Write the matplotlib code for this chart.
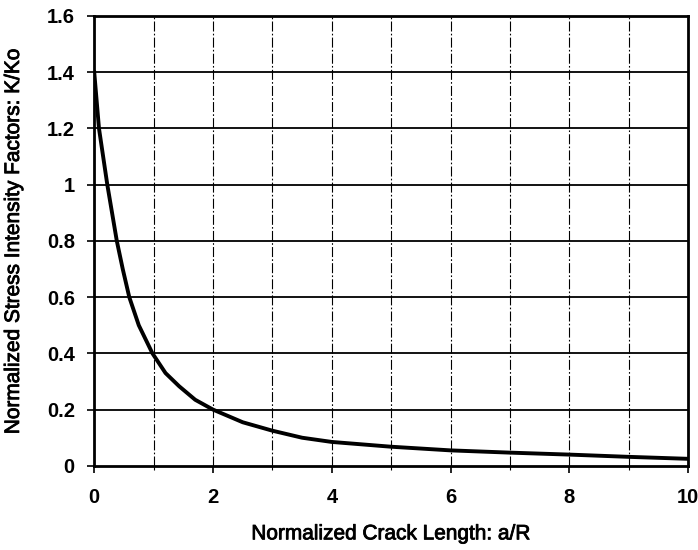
import numpy as np
from matplotlib import pyplot as plt
import matplotlib
import matplotlib.patheffects as pe

matplotlib.rcParams['font.family'] = ['Liberation Sans', 'DejaVu Sans']

# values
crack_len = [0, 0.08, 0.22, 0.38, 0.48, 0.59, 0.75, 0.98, 1.2, 1.43, 1.7, 2.0,
             2.5, 3.0, 3.5, 4.0, 5.0, 6.0, 7.0, 8.0, 9.0, 10.0]
k_ratio = [1.4, 1.2, 1.0, 0.8, 0.7, 0.6, 0.5, 0.4, 0.33, 0.283, 0.235, 0.2,
           0.155, 0.125, 0.1, 0.085, 0.068, 0.055, 0.047, 0.04, 0.032, 0.025]

x_ticks = [0, 2, 4, 6, 8, 10]
x_grid = [1, 2, 3, 4, 5, 6, 7, 8, 9]
y_ticks = [0, 0.2, 0.4, 0.6, 0.8, 1.0, 1.2, 1.4, 1.6]
y_labels = ['0', '0.2', '0.4', '0.6', '0.8', '1', '1.2', '1.4', '1.6']

fig = plt.figure(figsize=(6.98, 5.5), dpi=100)
ax = fig.add_axes([0.135, 0.153, 0.851, 0.818])

for yv in y_ticks[1:-1]:
    ax.axhline(yv, color='black', linewidth=1.3, zorder=1)
for xv in x_grid:
    ax.axvline(xv, color='black', linewidth=0.8, linestyle=(0, (9, 2, 1.5, 2)), zorder=1)

ax.plot(crack_len, k_ratio, color='black', linewidth=2.8, zorder=3,
        solid_joinstyle='round')

ax.set_xlim(0, 10)
ax.set_ylim(0, 1.6)
ax.set_xticks(x_ticks)
ax.set_yticks(y_ticks)
ax.set_yticklabels(y_labels)
ax.set_xticks(x_grid, minor=True)
ax.tick_params(axis='both', which='major', direction='out', length=5, width=1.2,
               labelsize=14.5, pad=9)
ax.tick_params(axis='x', which='major', pad=11)
ax.tick_params(axis='x', which='minor', direction='out', length=3, width=0.8)
for lab in ax.get_xticklabels() + ax.get_yticklabels():
    lab.set_fontweight('bold')

for s in ax.spines.values():
    s.set_linewidth(2)

thick = [pe.withStroke(linewidth=0.6, foreground='black')]
ax.set_xlabel('Normalized Crack Length: a/R', fontsize=15, path_effects=thick)
ax.set_ylabel('Normalized Stress Intensity Factors: K/Ko', fontsize=15, path_effects=thick)
ax.xaxis.set_label_coords(0.5, -0.13)
ax.yaxis.set_label_coords(-0.12, 0.5)

plt.savefig('out.png', dpi=100)
